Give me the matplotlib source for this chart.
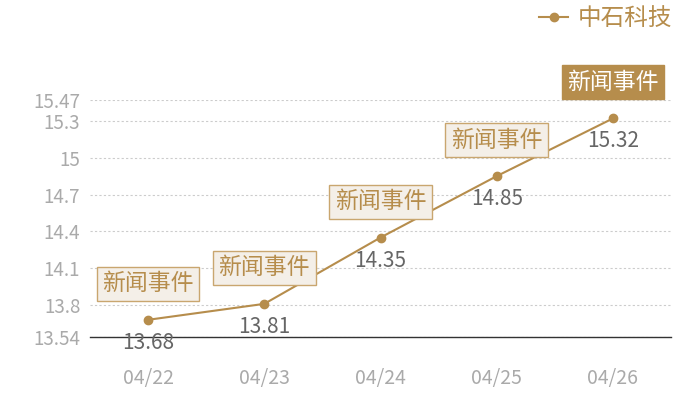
import matplotlib
matplotlib.use("Agg")
import matplotlib.pyplot as plt

plt.rcParams['font.family'] = ['Noto Sans CJK SC', 'DejaVu Sans']
plt.rcParams['font.weight'] = 'light'

# data
dates = ['04/22', '04/23', '04/24', '04/25', '04/26']
prices = [13.68, 13.81, 14.35, 14.85, 15.32]
y_ticks = [13.54, 13.8, 14.1, 14.4, 14.7, 15, 15.3, 15.47]
y_tick_labels = ['13.54', '13.8', '14.1', '14.4', '14.7', '15', '15.3', '15.47']
event_label = '新闻事件'
series_name = '中石科技'

gold = '#b68d4c'
box_fill = '#f4efe8'
box_edge = '#c9a66f'

fig = plt.figure(figsize=(7, 4), dpi=100)
ax = fig.add_axes([0.1286, 0.1575, 0.83, 0.5925])

x = list(range(len(dates)))
ax.plot(x, prices, color=gold, lw=1.5, marker='o', ms=6, label=series_name, zorder=3)

ax.set_xlim(-0.5, len(dates) - 0.5)
ax.set_ylim(y_ticks[0], y_ticks[-1])
ax.set_xticks(x)
ax.set_xticklabels(dates)
ax.set_yticks(y_ticks)
ax.set_yticklabels(y_tick_labels)
ax.tick_params(axis='both', length=0, colors='#aaaaaa', labelsize=13.5)
ax.tick_params(axis='x', pad=22, labelsize=14)
ax.tick_params(axis='y', pad=7)

for s in ['top', 'right', 'left']:
    ax.spines[s].set_visible(False)
ax.spines['bottom'].set_color('#333333')
ax.spines['bottom'].set_linewidth(1)
ax.yaxis.grid(True, color='#cccccc', ls=(0, (2, 2)), lw=0.8)
ax.set_axisbelow(True)

# value labels below points, event boxes above
for i, v in enumerate(prices):
    ax.annotate(f'{v:.2f}', (i, v), xytext=(0, -23), textcoords='offset pixels',
                ha='center', va='center', fontsize=15, color='#666666', zorder=4)
    last = i == len(prices) - 1
    ax.annotate(event_label, (i, v), xytext=(0, 36), textcoords='offset pixels',
                ha='center', va='center', fontsize=16.5,
                color='white' if last else gold, zorder=5, annotation_clip=False,
                bbox=dict(boxstyle='square,pad=0.24', fc=gold if last else box_fill,
                          ec=gold if last else box_edge, lw=1))

leg = fig.legend(loc='upper right', bbox_to_anchor=(0.99, 1.035), frameon=False,
                 handlelength=1.2, handletextpad=0.4, fontsize=17)
for t in leg.get_texts():
    t.set_color(gold)

fig.savefig('out.png', dpi=100)
